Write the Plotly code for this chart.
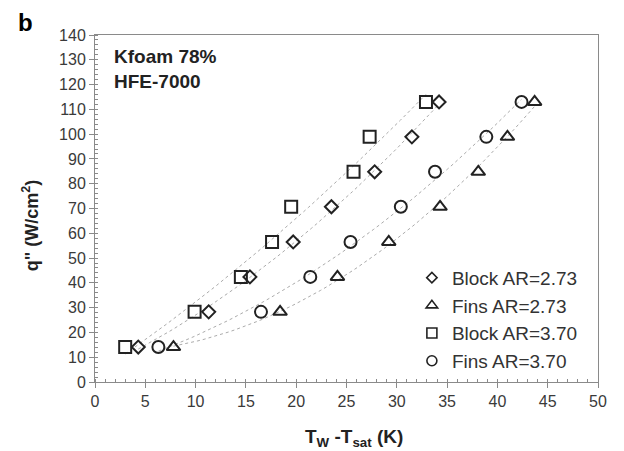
import numpy as np
import plotly.graph_objects as go

# heat flux levels (W/cm2)
q_levels = [14.1, 28.3, 42.4, 56.5, 70.7, 84.8, 98.9, 113.0]

# wall superheat (K) for each configuration
block_273 = [4.3, 11.3, 15.4, 19.7, 23.5, 27.8, 31.5, 34.2]
fins_273 = [7.8, 18.4, 24.1, 29.2, 34.3, 38.1, 41.0, 43.7]
block_370 = [3.0, 9.9, 14.5, 17.6, 19.5, 25.7, 27.3, 32.9]
fins_370 = [6.3, 16.5, 21.4, 25.4, 30.4, 33.8, 38.9, 42.4]

series_names = ["Block AR=2.73", "Fins AR=2.73", "Block AR=3.70", "Fins AR=3.70"]
series_x = [block_273, fins_273, block_370, fins_370]
symbols = ["diamond-open", "triangle-up-open", "square-open", "circle-open"]
sizes = [10, 12, 12, 12]
legend_sizes = [8, 10, 10, 10]

FONT = "Liberation Sans, Arial, sans-serif"
MARK = "#222222"

fig = go.Figure()

# dotted trend lines (quadratic fit over each series' range)
for xs in series_x:
    xa = np.array(xs)
    ya = np.array(q_levels)
    c = np.polyfit(xa, ya, 2)
    xx = np.linspace(xa.min(), xa.max(), 60)
    fig.add_trace(go.Scatter(x=xx, y=np.polyval(c, xx), mode="lines",
                             line=dict(color="#ababab", width=1, dash="dot"),
                             showlegend=False, hoverinfo="skip"))

for name, xs, sym, sz in zip(series_names, series_x, symbols, sizes):
    fig.add_trace(go.Scatter(x=xs, y=q_levels, mode="markers", name=name,
                             legendgroup=name, showlegend=False,
                             marker=dict(symbol=sym, size=sz, color=MARK,
                                         line=dict(width=2, color=MARK))))

# legend entries with smaller symbols, as in the reference
for name, sym, sz in zip(series_names, symbols, legend_sizes):
    fig.add_trace(go.Scatter(x=[None], y=[None], mode="markers", name=name,
                             legendgroup=name, showlegend=True,
                             marker=dict(symbol=sym, size=sz, color=MARK,
                                         line=dict(width=1.6, color=MARK))))

axis_common = dict(showline=True, linecolor="#8a8a8a", linewidth=1, mirror=True,
                   showgrid=False, zeroline=False, ticks="outside", ticklen=5,
                   tickcolor="#8a8a8a", tickfont=dict(family=FONT, size=16, color="#3a3a3a"))

fig.update_xaxes(range=[0, 50], dtick=5, tick0=0,
                 minor=dict(ticks="inside", ticklen=3, dtick=1, tickcolor="#8a8a8a"),
                 **axis_common)
fig.update_yaxes(range=[0, 140], dtick=10, tick0=0,
                 minor=dict(ticks="inside", ticklen=3, dtick=2, tickcolor="#8a8a8a"),
                 **axis_common)

fig.add_annotation(text="<b>b</b>", xref="paper", yref="paper", x=-0.157, y=1.035,
                   xanchor="left", yanchor="middle", showarrow=False,
                   font=dict(family=FONT, size=24, color="black"))
fig.add_annotation(text="<b>Kfoam 78%<br>HFE-7000</b>", xref="paper", yref="paper",
                   x=0.034, y=0.975, xanchor="left", yanchor="top", align="left",
                   showarrow=False, font=dict(family=FONT, size=19, color="#222222"))
fig.add_annotation(text="<b>q\" (W/cm<sup>2</sup>)</b>", xref="paper", yref="paper",
                   x=-0.129, y=0.452, textangle=-90, showarrow=False,
                   xanchor="center", yanchor="middle",
                   font=dict(family=FONT, size=18, color="#222222"))
fig.add_annotation(text="<b>T<sub>W</sub> -T<sub>sat</sub> (K)</b>", xref="paper", yref="paper",
                   x=0.515, y=-0.161, showarrow=False, xanchor="center", yanchor="middle",
                   font=dict(family=FONT, size=19, color="#222222"))

fig.update_layout(
    width=624, height=451,
    margin=dict(l=95, r=26, t=35, b=69),
    paper_bgcolor="white", plot_bgcolor="white",
    showlegend=True,
    legend=dict(x=0.63, y=0.355, xanchor="left", yanchor="top", itemsizing="trace",
                bgcolor="rgba(0,0,0,0)", font=dict(family=FONT, size=19, color="#333333"),
                itemwidth=30, tracegroupgap=0),
)

fig.write_html("out.html")
